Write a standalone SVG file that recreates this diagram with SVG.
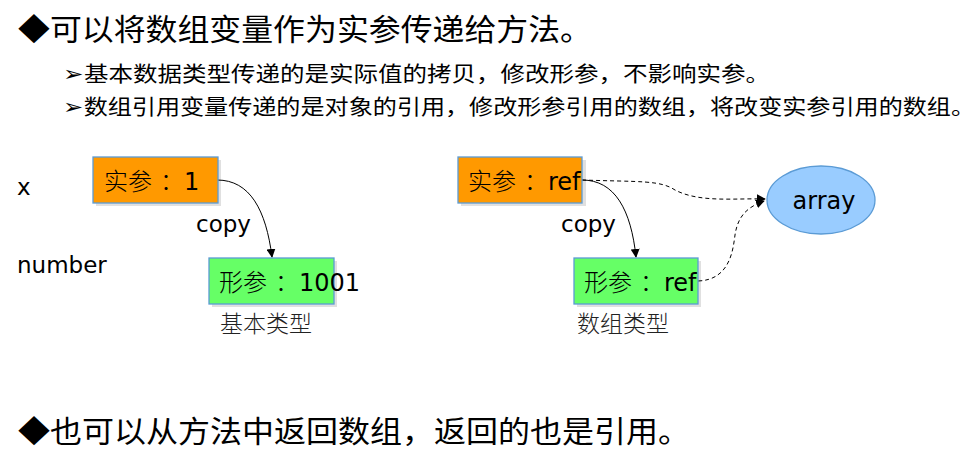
<svg xmlns="http://www.w3.org/2000/svg" width="980" height="463" viewBox="0 0 980 463">
  <style>
    .h1 { font-family: "Noto Sans CJK SC", sans-serif; font-size: 30px; fill: #000; }
    .h2 { font-family: "Noto Sans CJK SC", sans-serif; font-size: 21px; fill: #000; }
    .lbl { font-family: "DejaVu Sans", "Noto Sans CJK SC", sans-serif; font-size: 23px; fill: #000; }
    .node { font-family: "DejaVu Sans", "Noto Sans CJK SC", sans-serif; font-size: 24px; fill: #000; }
    .cjk { font-family: "Noto Sans CJK SC", sans-serif; font-weight: 300; }
    .cap { font-family: "Noto Sans CJK SC", sans-serif; font-size: 23px; font-weight: 300; fill: #222; }
    .box { stroke: #5B9BD5; stroke-width: 1.3; }
    .act { fill: #FF9900; }
    .frm { fill: #66FF66; }
    .shadow { fill: #000; opacity: 0.12; }
    .edge { fill: none; stroke: #000; stroke-width: 1; }
    .dash { stroke-dasharray: 4 3; }
  </style>
  <defs>
    <marker id="head" viewBox="0 0 10 10" refX="9" refY="5" markerWidth="9" markerHeight="9" markerUnits="userSpaceOnUse" orient="auto">
      <path d="M0,0 L10,5 L0,10 z" fill="#000"/>
    </marker>
  </defs>

  <!-- headings -->
  <text class="h1" x="18" y="40" textLength="574" lengthAdjust="spacingAndGlyphs">◆可以将数组变量作为实参传递给方法。</text>
  <text class="h2" x="63" y="81" textLength="707" lengthAdjust="spacingAndGlyphs">➢基本数据类型传递的是实际值的拷贝，修改形参，不影响实参。</text>
  <text class="h2" x="63" y="114" textLength="912" lengthAdjust="spacingAndGlyphs">➢数组引用变量传递的是对象的引用，修改形参引用的数组，将改变实参引用的数组。</text>
  <text class="h1" x="18" y="442" textLength="672" lengthAdjust="spacingAndGlyphs">◆也可以从方法中返回数组，返回的也是引用。</text>

  <!-- variable names -->
  <text class="lbl" x="17" y="195">x</text>
  <text class="lbl" x="17" y="273">number</text>

  <!-- connectors -->
  <g id="connectors">
    <path class="edge" d="M217,180 C250,180 266,210 272,257" marker-end="url(#head)"/>
    <path class="edge" d="M582,180 C615,180 631,210 636,257" marker-end="url(#head)"/>
    <path class="edge dash" d="M582,180 C640,182 660,180 675,190 C700,203 735,198 765,199" marker-end="url(#head)"/>
    <path class="edge dash" d="M698,281 C730,280 733,250 735,235 C738,215 748,207 764,201" marker-end="url(#head)"/>
    <text class="lbl" x="196" y="232">copy</text>
    <text class="lbl" x="561" y="232">copy</text>
  </g>

  <!-- primitive argument -->
  <g id="actual-primitive">
    <rect class="shadow" x="96" y="160" width="125" height="46"/>
    <rect class="box act" x="93" y="157" width="125" height="46"/>
    <text class="node" x="104" y="190"><tspan class="cjk">实参</tspan><tspan class="cjk" dx="8">：</tspan>1</text>
  </g>
  <g id="formal-primitive">
    <rect class="shadow" x="212" y="261" width="125" height="46"/>
    <rect class="box frm" x="209" y="258" width="125" height="46"/>
    <text class="node" x="219" y="291"><tspan class="cjk">形参</tspan><tspan class="cjk" dx="8">：</tspan>1001</text>
    <text class="cap" x="220" y="332">基本类型</text>
  </g>

  <!-- array argument -->
  <g id="actual-array">
    <rect class="shadow" x="461" y="160" width="125" height="46"/>
    <rect class="box act" x="458" y="157" width="124" height="46"/>
    <text class="node" x="468" y="190"><tspan class="cjk">实参</tspan><tspan class="cjk" dx="8">：</tspan>ref</text>
  </g>
  <g id="formal-array">
    <rect class="shadow" x="577" y="261" width="124" height="46"/>
    <rect class="box frm" x="574" y="258" width="124" height="46"/>
    <text class="node" x="584" y="291"><tspan class="cjk">形参</tspan><tspan class="cjk" dx="8">：</tspan>ref</text>
    <text class="cap" x="577" y="332">数组类型</text>
  </g>
  <g id="array">
    <ellipse cx="821" cy="200" rx="54" ry="34" fill="#99CCFF" stroke="#5B9BD5" stroke-width="1.3"/>
    <text class="node" x="824" y="209" text-anchor="middle">array</text>
  </g>
</svg>
